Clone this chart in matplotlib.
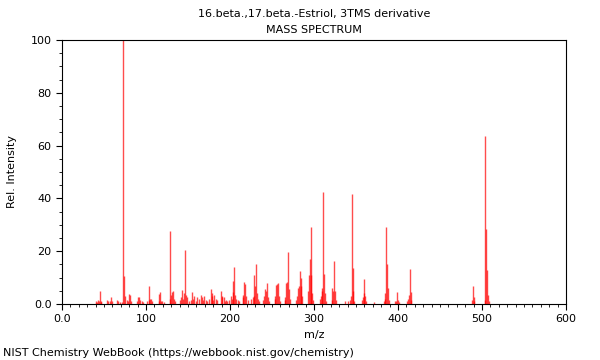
import numpy as np
import matplotlib
matplotlib.use("Agg")
import matplotlib.pyplot as plt
from matplotlib.ticker import MultipleLocator, FuncFormatter

# peak list (m/z, relative intensity)
mz = [40, 41, 42, 43, 44, 45, 46, 47, 53, 55, 57, 58, 59, 66, 67, 69, 71,
      73, 74, 75, 77, 79, 80, 81, 82, 89, 91, 92, 93, 95, 97, 101, 103, 104,
      105, 106, 107, 115, 116, 117, 118, 119, 121, 128, 129, 130, 131, 132,
      133, 135, 141, 142, 143, 144, 145, 147, 148, 149, 151, 154, 155, 156,
      157, 159, 161, 163, 165, 167, 168, 169, 171, 173, 175, 177, 178, 179,
      180, 181, 183, 185, 189, 190, 191, 193, 194, 195, 197, 199, 201, 202,
      203, 204, 205, 206, 207, 209, 211, 215, 216, 217, 218, 219, 221, 225,
      227, 228, 229, 230, 231, 232, 233, 235, 239, 241, 242, 243, 244, 245,
      247, 253, 254, 255, 256, 257, 258, 259, 265, 266, 267, 268, 269, 270,
      271, 279, 280, 281, 282, 283, 284, 285, 286, 293, 294, 295, 296, 297,
      298, 299, 307, 308, 309, 310, 311, 312, 313, 314, 321, 322, 323, 324,
      325, 326, 337, 341, 343, 344, 345, 346, 347, 348, 357, 358, 359, 360,
      361, 362, 371, 383, 384, 385, 386, 387, 388, 389, 397, 398, 399, 400,
      401, 411, 412, 413, 414, 415, 416, 488, 489, 490, 491, 503, 504, 505,
      506, 507, 508]
intensity = [0.5, 1.2, 0.8, 1.5, 1.0, 4.9, 0.8, 1.3, 1.5, 1.2, 1.0, 2.8, 1.2,
             1.5, 1.0, 0.8, 0.6, 100, 10.5, 3.0, 1.5, 1.0, 3.7, 3.4, 1.0, 1.0,
             2.8, 2.5, 1.5, 1.0, 0.8, 1.2, 6.9, 1.5, 2.0, 1.8, 1.3, 3.8, 1.0,
             4.5, 1.0, 1.2, 0.8, 2.0, 27.6, 3.5, 4.5, 5.0, 2.0, 1.0, 1.5, 2.5,
             5.3, 2.0, 4.0, 20.5, 3.4, 2.5, 1.2, 1.5, 4.5, 2.0, 3.0, 1.2, 2.5,
             2.0, 3.5, 2.5, 1.5, 3.0, 1.5, 1.0, 2.0, 5.5, 3.0, 4.0, 1.5, 3.5,
             2.0, 1.5, 4.9, 2.5, 3.0, 2.5, 1.0, 1.5, 1.0, 1.5, 3.0, 2.0, 8.7,
             4.5, 14.1, 3.5, 2.0, 1.5, 1.0, 3.5, 2.5, 8.3, 7.5, 3.0, 1.5, 2.0,
             2.5, 3.0, 11.0, 7.0, 15.2, 4.0, 2.0, 1.0, 1.5, 3.0, 5.5, 5.0, 7.8,
             2.5, 1.0, 2.0, 3.0, 7.2, 7.5, 8.1, 3.0, 1.0, 1.5, 2.5, 8.0, 8.3,
             19.8, 5.5, 2.0, 1.5, 3.0, 6.0, 7.0, 12.5, 6.8, 10.0, 3.0, 5.0,
             11.0, 17.0, 29.0, 11.0, 4.0, 1.5, 2.0, 3.0, 6.2, 5.0, 42.3, 11.5,
             4.0, 1.0, 1.5, 6.0, 5.0, 16.3, 5.0, 1.5, 1.0, 1.0, 1.5, 3.0, 41.6,
             13.5, 5.0, 1.0, 1.5, 2.5, 4.0, 9.3, 3.0, 1.0, 0.8, 1.0, 2.0, 4.0,
             29.3, 15.0, 6.0, 1.5, 1.0, 1.2, 4.6, 1.5, 0.8, 1.0, 2.0, 3.5, 13.1,
             4.5, 1.5, 1.5, 6.8, 2.5, 1.0, 1.5, 63.5, 28.3, 12.9, 3.5, 1.0]

x_ticks = [0, 100, 200, 300, 400, 500, 600]
y_ticks = [0, 20, 40, 60, 80, 100]

fig = plt.figure(figsize=(6, 3.6), dpi=100)
ax = fig.add_axes([62 / 600, 1 - 304 / 360, 504 / 600, 264 / 360])

ax.vlines(mz, 0, intensity, colors="#ff0000", linewidth=1.0, alpha=0.7)

ax.set_xlim(0, 600)
ax.set_ylim(0, 100)
ax.set_xticks(x_ticks)
ax.set_yticks(y_ticks)
ax.xaxis.set_minor_locator(MultipleLocator(10))
ax.yaxis.set_minor_locator(MultipleLocator(5))
fmt = FuncFormatter(lambda v, p: "0.0" if v == 0 else "%d" % v)
ax.xaxis.set_major_formatter(fmt)
ax.yaxis.set_major_formatter(fmt)
ax.tick_params(labelsize=8, length=4, width=0.8)
ax.tick_params(which="minor", length=2.5, width=0.6)
for s in ax.spines.values():
    s.set_linewidth(0.8)

ax.set_xlabel("m/z", fontsize=8)
ax.set_ylabel("Rel. Intensity", fontsize=8)
ax.yaxis.set_label_coords((17 - 62) / 504, 0.5)

fig.text(314 / 600, 1 - 14 / 360, "16.beta.,17.beta.-Estriol, 3TMS derivative",
         ha="center", va="center", fontsize=8)
fig.text(314 / 600, 1 - 30 / 360, "MASS SPECTRUM",
         ha="center", va="center", fontsize=8)
fig.text(3 / 600, 1 - 353 / 360, "NIST Chemistry WebBook (https://webbook.nist.gov/chemistry)",
         ha="left", va="center", fontsize=8)

fig.savefig("out.png", dpi=100)
